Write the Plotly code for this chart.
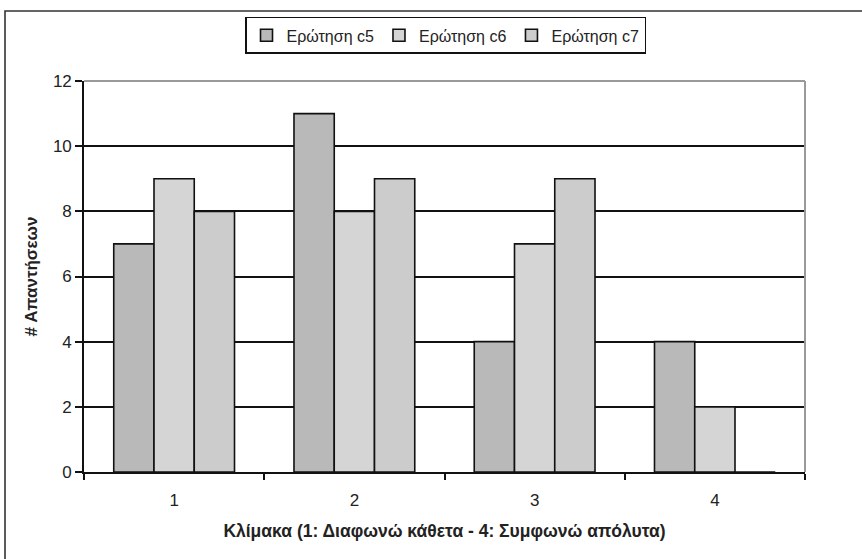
import plotly.graph_objects as go

# Scale categories (1 = strongly disagree ... 4 = strongly agree)
categories = [1, 2, 3, 4]
tick_labels = ["1", "2", "3", "4"]

# Number of answers per question
c5_values = [7, 11, 4, 4]
c6_values = [9, 8, 7, 2]
c7_values = [8, 9, 9, 0]

series = [
    ("Ερώτηση c5", c5_values, "#b9b9b9"),
    ("Ερώτηση c6", c6_values, "#d5d5d5"),
    ("Ερώτηση c7", c7_values, "#cccccc"),
]

FONT = "Arial, Liberation Sans, sans-serif"

fig = go.Figure()
for name, vals, color in series:
    fig.add_trace(go.Bar(
        x=categories, y=vals, name=name,
        marker=dict(color=color, line=dict(color="#111111", width=1.6)),
    ))

fig.update_layout(
    width=862, height=559,
    margin=dict(l=84, r=57, t=81, b=87),
    paper_bgcolor="white", plot_bgcolor="white",
    barmode="group", bargap=0.33, bargroupgap=0,
    font=dict(family=FONT, size=16, color="#222222"),
    showlegend=True,
    legend=dict(
        orientation="h", x=0.5014, xanchor="center", y=1.164, yanchor="top",
        bordercolor="#111111", borderwidth=1.5, bgcolor="white",
        font=dict(size=16, color="#222222"),
        itemwidth=30, traceorder="normal",
    ),
    xaxis=dict(
        range=[0.5, 4.5], tickmode="array", tickvals=categories, ticktext=tick_labels,
        ticks="", showgrid=False, zeroline=False, ticklabelstandoff=12,
        showline=True, linecolor="#111111", linewidth=1.6,
        minor=dict(tickmode="linear", tick0=0.5, dtick=1, ticks="outside",
                   ticklen=6, tickwidth=1.5, tickcolor="#111111", showgrid=False),
        title=dict(text="<b>Κλίμακα (1: Διαφωνώ κάθετα - 4: Συμφωνώ απόλυτα)</b>",
                   font=dict(size=17.5, color="#222222"), standoff=16),
        tickfont=dict(size=17),
    ),
    yaxis=dict(
        range=[0, 12], tickmode="linear", tick0=0, dtick=2,
        ticks="outside", ticklen=7, tickwidth=1.5, tickcolor="#111111",
        showgrid=True, gridcolor="#111111", gridwidth=1.5,
        zeroline=False, showline=True, linecolor="#111111", linewidth=1.6,
        title=dict(text="<b># Απαντήσεων</b>", font=dict(size=17, color="#222222"),
                   standoff=11),
        tickfont=dict(size=17),
    ),
    shapes=[
        # grey plot-area border on top and right
        dict(type="line", xref="paper", yref="paper", x0=0, x1=1, y0=1, y1=1,
             line=dict(color="#9a9a9a", width=2), layer="above"),
        dict(type="line", xref="paper", yref="paper", x0=1, x1=1, y0=0, y1=1,
             line=dict(color="#9a9a9a", width=2), layer="above"),
        # outer chart frame
        dict(type="rect", xref="paper", yref="paper",
             x0=(5 - 84) / 721, x1=(880 - 84) / 721,
             y0=-(580 - 472) / 391, y1=1 + (81 - 11) / 391,
             line=dict(color="#333333", width=1.6), layer="below"),
    ],
)

fig.write_html("out.html")
